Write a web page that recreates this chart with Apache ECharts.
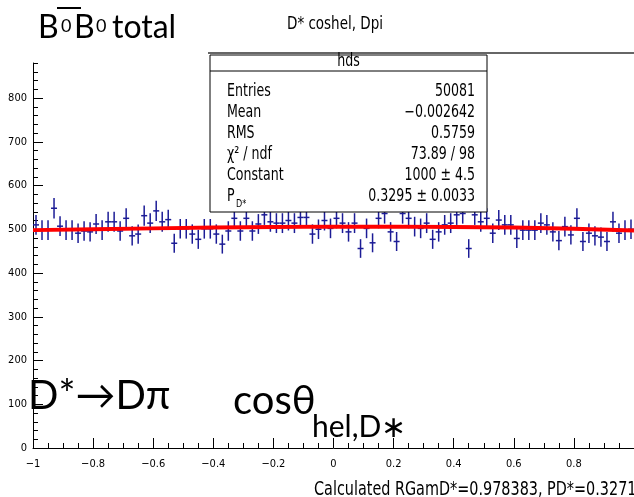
<!DOCTYPE html>
<html>
<head>
<meta charset="utf-8">
<script src="https://cdn.jsdelivr.net/npm/echarts@6/dist/echarts.min.js"></script>
<style>
html, body { margin: 0; padding: 0; background: #fff; }
#main { width: 634px; height: 497px; }
</style>
</head>
<body>
<div id="main"></div>
<script>
// histogram hds: 100 bins from -1 to 1
const binLow = -1;
const binWidth = 0.02;
const counts = [
  510, 498, 498, 548, 507, 498, 498, 491, 496, 494,
  512, 498, 517, 517, 496, 525, 485, 489, 531, 514,
  542, 517, 522, 468, 501, 501, 489, 477, 501, 501,
  489, 466, 496, 525, 496, 525, 496, 512, 533, 517,
  514, 514, 520, 514, 527, 527, 489, 500, 520, 502,
  525, 514, 494, 514, 456, 502, 469, 525, 536, 494,
  472, 536, 525, 506, 502, 514, 477, 494, 510, 514,
  533, 536, 456, 533, 517, 525, 491, 521, 510, 510,
  479, 498, 498, 498, 514, 510, 494, 474, 506, 487,
  525, 472, 491, 485, 482, 472, 517, 491, 498, 500
];
// fit curve
const fitX = [-1, -0.8, -0.6, -0.4, -0.2, 0, 0.2, 0.4, 0.6, 0.8, 1];
const fitY = [498, 500, 502, 504, 505, 506, 506, 505, 504, 501, 497];

const xTicks = [-1, -0.8, -0.6, -0.4, -0.2, 0, 0.2, 0.4, 0.6, 0.8];
const yTicks = [0, 100, 200, 300, 400, 500, 600, 700, 800];

const statsTitle = 'hds';
const statsNames = ['Entries', 'Mean', 'RMS', 'χ² / ndf', 'Constant', 'P'];
const statsValues = ['50081', '\u22120.002642', '0.5759', '73.89 / 98', '1000 ± 4.5', '0.3295 ± 0.0033'];

const rootFont = '"Liberation Sans Narrow", "DejaVu Sans Condensed", "Liberation Sans", sans-serif';
const slideFont = 'Lato, "Open Sans", sans-serif';
const blue = '#1c1c96';

const histData = counts.map((c, i) => [binLow + binWidth * (i + 0.5), c]);
const fitData = fitX.map((x, i) => [x, fitY[i]]);

const chart = echarts.init(document.getElementById('main'));

const fmt = v => (v < 0 ? '\u2212' : '') + Math.abs(v);

// small helper for ROOT-style (tall, narrow) text
function rootText(x, y, text, size, align, extra) {
  return Object.assign({
    type: 'text', x: x, y: y + 2, scaleY: 1.2,
    style: { text: text, font: size + 'px ' + rootFont, fill: '#000', align: align || 'left', verticalAlign: 'middle' }
  }, extra || {});
}

// stats box graphics
const box = { x: 210, y: 55, w: 277, h: 157 };
const statsEls = [
  { type: 'line', shape: { x1: 208, y1: 53, x2: 634, y2: 53 }, style: { stroke: '#333', lineWidth: 1.5 }, z: 100 },
  { type: 'rect', shape: { x: box.x, y: box.y, width: box.w, height: box.h }, style: { fill: '#fff', stroke: '#000', lineWidth: 1 }, z: 100 },
  { type: 'line', shape: { x1: box.x, y1: 71, x2: box.x + box.w, y2: 71 }, style: { stroke: '#000', lineWidth: 1 }, z: 101 },
  rootText(box.x + box.w / 2, 60, statsTitle, 14, 'center', { z: 101 })
];
statsNames.forEach((n, i) => {
  const y = 90 + i * 21;
  statsEls.push(rootText(227, y, n, 14, 'left', { z: 101 }));
  statsEls.push(rootText(475, y, statsValues[i], 14, 'right', { z: 101 }));
});
statsEls.push(rootText(236, 202, 'D*', 9, 'left', { z: 101 }));

const slideEls = [
  { type: 'text', x: 38, y: 44, style: { text: 'B', font: '32px ' + slideFont, fill: '#000', verticalAlign: 'bottom' } },
  { type: 'text', x: 61, y: 35, style: { text: '0', font: '18px ' + slideFont, fill: '#000', verticalAlign: 'bottom' } },
  { type: 'text', x: 74, y: 44, style: { text: 'B', font: '32px ' + slideFont, fill: '#000', verticalAlign: 'bottom' } },
  { type: 'text', x: 96, y: 35, style: { text: '0', font: '18px ' + slideFont, fill: '#000', verticalAlign: 'bottom' } },
  { type: 'text', x: 112, y: 44, style: { text: 'total', font: '32px ' + slideFont, fill: '#000', verticalAlign: 'bottom' } },
  { type: 'line', shape: { x1: 57, y1: 8, x2: 81, y2: 8 }, style: { stroke: '#000', lineWidth: 2 } },
  rootText(335, 22, 'D* coshel, Dpi', 15, 'center'),
  { type: 'text', x: 28, y: 416, style: { text: 'D*\u2192D\u03c0', font: '40px ' + slideFont, fill: '#000', verticalAlign: 'bottom' }, z: 50 },
  { type: 'text', x: 233, y: 421, style: { text: 'cos\u03b8', font: '40px ' + slideFont, fill: '#000', verticalAlign: 'bottom' }, z: 50 },
  { type: 'text', x: 312, y: 442, style: { text: 'hel,D\u2217', font: '30px ' + slideFont, fill: '#000', verticalAlign: 'bottom' }, z: 50 },
  rootText(314, 488, 'Calculated RGamD*=0.978383, PD*=0.327150', 16, 'left')
];

const option = {
  backgroundColor: '#fff',
  animation: false,
  grid: { left: 33, right: -5, top: 63, bottom: 49 },
  xAxis: {
    type: 'value', min: -1, max: 1, interval: 0.2,
    axisLine: { onZero: false, lineStyle: { color: '#000', width: 1 } },
    axisTick: { inside: true, length: 10, lineStyle: { color: '#000' } },
    minorTick: { show: true, splitNumber: 4, length: 5, lineStyle: { color: '#000' } },
    axisLabel: { customValues: xTicks, formatter: fmt, color: '#000', fontSize: 11, fontFamily: rootFont, margin: 11 },
    splitLine: { show: false }
  },
  yAxis: [
    {
      type: 'value', min: 0, max: 880, position: 'left',
      axisLine: { show: true, onZero: false, lineStyle: { color: '#000', width: 1 } },
      axisTick: { show: true, inside: true, length: 10, customValues: yTicks, lineStyle: { color: '#000' } },
      axisLabel: { customValues: yTicks, color: '#000', fontSize: 11, fontFamily: rootFont, margin: 6 },
      splitLine: { show: false }
    },
    {
      type: 'value', min: 0, max: 880, interval: 20, position: 'left',
      axisLine: { show: false, onZero: false },
      axisTick: { show: true, inside: true, length: 5, lineStyle: { color: '#000' } },
      axisLabel: { show: false },
      splitLine: { show: false }
    }
  ],
  series: [
    {
      type: 'custom',
      data: histData,
      encode: { x: 0, y: 1 },
      z: 2,
      renderItem: function (params, api) {
        const x = api.value(0), y = api.value(1), e = Math.sqrt(y);
        const l = api.coord([x - binWidth / 2, y]);
        const r = api.coord([x + binWidth / 2, y]);
        const t = api.coord([x, y + e]);
        const b = api.coord([x, y - e]);
        return {
          type: 'group',
          children: [
            { type: 'line', shape: { x1: l[0], y1: l[1], x2: r[0], y2: r[1] }, style: { stroke: blue, lineWidth: 1.5 } },
            { type: 'line', shape: { x1: t[0], y1: t[1], x2: b[0], y2: b[1] }, style: { stroke: blue, lineWidth: 1.5 } }
          ]
        };
      }
    },
    {
      type: 'line',
      data: fitData,
      showSymbol: false,
      z: 3,
      lineStyle: { color: '#ff0000', width: 4 }
    }
  ],
  graphic: statsEls.concat(slideEls)
};

chart.setOption(option);
</script>
</body>
</html>
